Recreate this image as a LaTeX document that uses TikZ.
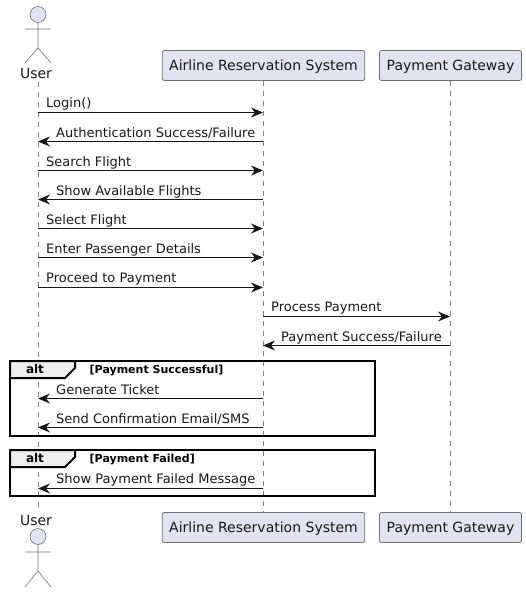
\documentclass[tikz,border=0pt]{standalone}
\usepackage{fontspec}
\setmainfont{DejaVu Sans}
\usetikzlibrary{arrows.meta,positioning}
\definecolor{partfill}{HTML}{E2E2F0}
\definecolor{partline}{HTML}{6E6E7A}
\definecolor{tabfill}{HTML}{EEEEEE}
\definecolor{inkcol}{HTML}{181818}
\tikzset{
	part/.style={draw=partline, fill=partfill, rounded corners=2pt, line width=0.8pt, minimum width=#1, minimum height=30pt, inner sep=0pt, text height=12pt, text depth=3pt, text=inkcol, font=\fontsize{14}{16}\selectfont},
	lifeline/.style={draw=gray, line width=0.6pt, dash pattern=on 5pt off 5pt},
	stick/.style={draw=gray!90!black, line width=0.6pt},
	msg/.style={anchor=base west, inner sep=0pt, text=inkcol, font=\fontsize{13}{15}\selectfont},
	actorname/.style={anchor=base, inner sep=0pt, text=inkcol, font=\fontsize{14}{16}\selectfont},
	call/.style={draw=inkcol, line width=1pt, -{Stealth[length=12pt,width=10pt,inset=4pt]}},
	frame/.style={draw=black, line width=2pt},
	framelabel/.style={anchor=base, inner sep=0pt, font=\bfseries\fontsize{12}{14}\selectfont},
	guard/.style={anchor=base west, inner sep=0pt, font=\bfseries\fontsize{11}{13}\selectfont},
}
\begin{document}
\begin{tikzpicture}[x=1pt,y=-1pt]
	\useasboundingbox (0,0) rectangle (526,592);

	% participants
	\node[part=202.5pt] (sys top) at (263.5,65.5) {Airline Reservation System};
	\node[part=142pt] (pay top) at (450.5,65.5) {Payment Gateway};
	\node[part=202.5pt] (sys bot) at (263.5,527.5) {Airline Reservation System};
	\node[part=142pt] (pay bot) at (450.5,527.5) {Payment Gateway};
	\node[actorname] (user top) at (36,78) {User};
	\node[actorname] (user bot) at (36,525) {User};

	% lifelines
	\coordinate (u0) at (38,82);
	\coordinate (u9) at (38,512);
	\draw[lifeline] (u0) -- (u9);
	\draw[lifeline] (sys top) -- (sys bot);
	\draw[lifeline] (pay top) -- (pay bot);

	% actors
	\draw[stick, fill=partfill] (38,14.5) circle (8);
	\draw[stick] (38,22.5) -- (38,48) (25,29) -- (51,29) (25,63) -- (38,48) -- (51,63);
	\draw[stick, fill=partfill] (38,536.5) circle (8);
	\draw[stick] (38,544.5) -- (38,571) (25,552) -- (51,552) (25,587) -- (38,571) -- (51,587);

	% messages
	\coordinate (u1) at (38,112.5);
	\coordinate (s1) at (263,112.5);
	\coordinate (u2) at (38,141.5);
	\coordinate (s2) at (263,141.5);
	\coordinate (u3) at (38,170.5);
	\coordinate (s3) at (263,170.5);
	\coordinate (u4) at (38,199.5);
	\coordinate (s4) at (263,199.5);
	\coordinate (u5) at (38,228.5);
	\coordinate (s5) at (263,228.5);
	\coordinate (u6) at (38,257.5);
	\coordinate (s6) at (263,257.5);
	\coordinate (u7) at (38,287.5);
	\coordinate (s7) at (263,287.5);
	\coordinate (s8) at (263,316.5);
	\coordinate (p8) at (450,316.5);
	\coordinate (s9) at (263,345.5);
	\coordinate (p9) at (450,345.5);
	\coordinate (u10) at (38,398.5);
	\coordinate (s10) at (263,398.5);
	\coordinate (u11) at (38,427.5);
	\coordinate (s11) at (263,427.5);
	\coordinate (u12) at (38,488.5);
	\coordinate (s12) at (263,488.5);

	\draw[call] (u1) -- (s1);
	\draw[call] (s2) -- (u2);
	\draw[call] (u3) -- (s3);
	\draw[call] (s4) -- (u4);
	\draw[call] (u5) -- (s5);
	\draw[call] (u6) -- (s6);
	\draw[call] (u7) -- (s7);
	\draw[call] (s8) -- (p8);
	\draw[call] (p9) -- (s9);

	\node[msg] (login) at (46,107.5) {Login()};
	\node[msg] (auth) at (56,137) {Authentication Success/Failure};
	\node[msg] (search) at (46,166) {Search Flight};
	\node[msg] (show) at (56,195) {Show Available Flights};
	\node[msg] (select) at (46,224) {Select Flight};
	\node[msg] (enter) at (46,253) {Enter Passenger Details};
	\node[msg] (proceed) at (46,282) {Proceed to Payment};
	\node[msg] (process) at (271,311) {Process Payment};
	\node[msg] (result) at (281,341) {Payment Success/Failure};

	% alt frames
	\draw[frame] (10,361) rectangle (375,436);
	\draw[frame, fill=tabfill] (10,361) -- (75,361) -- (75,368) -- (65,378) -- (10,378) -- cycle;
	\node[framelabel] (alt ok) at (35,373.5) {alt};
	\node[guard] (guard ok) at (89.5,373) {[Payment Successful]};
	\draw[call] (s10) -- (u10);
	\draw[call] (s11) -- (u11);
	\node[msg] (ticket) at (56,394) {Generate Ticket};
	\node[msg] (mail) at (56,423) {Send Confirmation Email/SMS};

	\draw[frame] (10,450) rectangle (375,496);
	\draw[frame, fill=tabfill] (10,450) -- (75,450) -- (75,457) -- (65,467) -- (10,467) -- cycle;
	\node[framelabel] (alt fail) at (35,462.5) {alt};
	\node[guard] (guard fail) at (89.5,462) {[Payment Failed]};
	\draw[call] (s12) -- (u12);
	\node[msg] (failed) at (56,483.5) {Show Payment Failed Message};
\end{tikzpicture}
\end{document}
